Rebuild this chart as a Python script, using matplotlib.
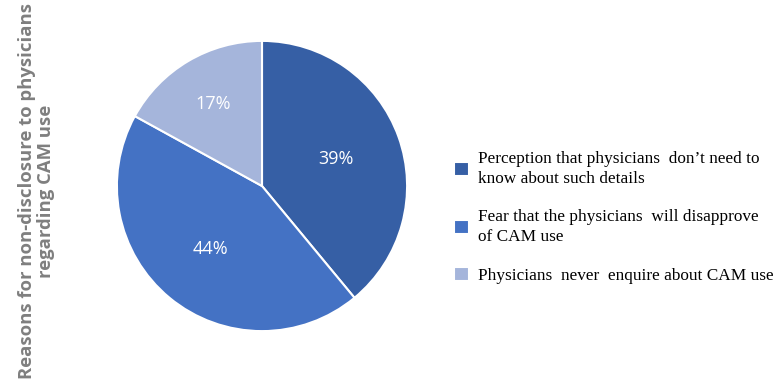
import matplotlib
matplotlib.use('Agg')
import matplotlib.pyplot as plt
import numpy as np

# shares of reasons (percent)
labels = ["Perception that physicians  don\u2019t need to\nknow about such details",
          "Fear that the physicians  will disapprove\nof CAM use",
          "Physicians  never  enquire about CAM use"]
shares = [39, 44, 17]
colors = ['#365FA5', '#4472C4', '#A5B5DB']

fig = plt.figure(figsize=(7.77, 3.82), dpi=100)

# pie placed by pixel box: centre (262, 186), radius 148
ax = fig.add_axes([(262 - 148) / 777, (382 - 186 - 148) / 382, 296 / 777, 296 / 382])
wedges, texts, autotexts = ax.pie(
    shares, colors=colors, startangle=90, counterclock=False,
    autopct='%d%%', pctdistance=0.57,
    wedgeprops=dict(edgecolor='white', linewidth=1.5),
    textprops=dict(color='white', fontsize=13, family='Open Sans'))
# nudge the label radii a little like the original
dists = [0.54, 0.56, 0.66]
for w, t, d in zip(wedges, autotexts, dists):
    ang = np.deg2rad((w.theta1 + w.theta2) / 2)
    t.set_position((d * np.cos(ang), d * np.sin(ang)))
ax.set_xlim(-1.02, 1.02)
ax.set_ylim(-1.02, 1.02)
ax.set_aspect('equal')

leg = fig.legend(wedges, labels, loc='center left', bbox_to_anchor=(438 / 777, 0.43),
                 frameon=False, handlelength=0.9, handleheight=0.9, handletextpad=0.55,
                 labelspacing=1.3, prop=dict(family='Liberation Serif', size=12.4))
for t in leg.get_texts():
    t.set_linespacing(1.3)

fig.text(0.047, 0.5, 'Reasons for non-disclosure to physicians\nregarding CAM use',
         rotation=90, ha='center', va='center', multialignment='center',
         fontsize=13.3, fontweight='bold', color='#7F7F7F', family='Open Sans',
         linespacing=1.1)

fig.savefig('out.png', dpi=100)
